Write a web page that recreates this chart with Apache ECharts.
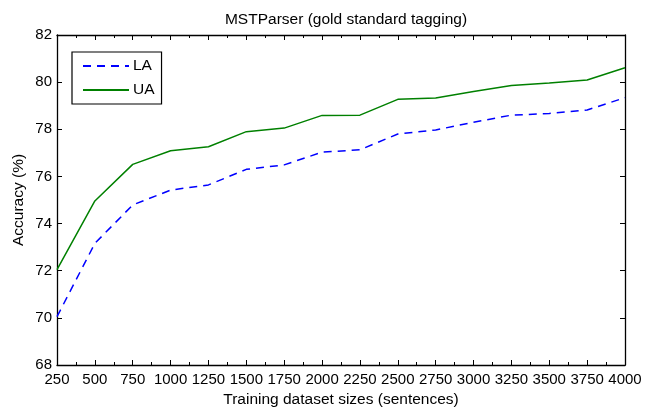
<!DOCTYPE html>
<html><head><meta charset="utf-8">
<script src="https://cdn.jsdelivr.net/npm/echarts@6/dist/echarts.min.js"></script>
<style>html,body{margin:0;padding:0;background:#fff}#c{width:653px;height:407px}</style>
</head><body><div id="c"></div>
<script>
const sizes = [250,500,750,1000,1250,1500,1750,2000,2250,2500,2750,3000,3250,3500,3750,4000];
const LA = [70.05,73.16,74.79,75.42,75.64,76.3,76.49,77.03,77.13,77.8,77.97,78.3,78.6,78.67,78.82,79.34];
const UA = [72.05,74.96,76.51,77.09,77.26,77.9,78.05,78.59,78.6,79.27,79.33,79.6,79.86,79.96,80.09,80.61];
const font = 'Liberation Sans, Arial, Helvetica, sans-serif';
const pair = (xs, ys) => xs.map((x, i) => [x, ys[i]]);
const chart = echarts.init(document.getElementById('c'));
const axisLine = {show: true, lineStyle: {color: '#000', width: 1.3}};
chart.setOption({
  animation: false,
  title: {text: 'MSTParser (gold standard tagging)', left: 341, top: 7, textAlign: 'center',
    textStyle: {fontFamily: font, fontSize: 15.5, fontWeight: 'normal', color: '#000'}},
  grid: {left: 57, right: 28, top: 35, bottom: 42, containLabel: false, outerBoundsMode: 'none'},
  legend: {orient: 'vertical', left: 72, top: 52, itemWidth: 46, itemHeight: 12, itemGap: 8,
    padding: [6, 7, 6, 10], borderColor: '#000', borderWidth: 1.2, backgroundColor: '#fff',
    itemStyle: {opacity: 0},
    textStyle: {fontFamily: font, fontSize: 15.5, color: '#000', padding: [0, 0, 0, -1]},
    data: ['LA', 'UA']},
  xAxis: [{
    type: 'value', min: 250, max: 4000, interval: 250,
    name: 'Training dataset sizes (sentences)', nameLocation: 'middle', nameGap: 20,
    nameTextStyle: {fontFamily: font, fontSize: 15.5, color: '#000'},
    axisLine: axisLine, axisTick: {inside: true, length: 5, lineStyle: {color: '#000'}},
    minorTick: {show: true, splitNumber: 2, length: 3, lineStyle: {color: '#000'}},
    axisLabel: {fontFamily: font, fontSize: 15, color: '#000', margin: 7, formatter: v => String(v)},
    splitLine: {show: false}
  }, {
    type: 'value', min: 250, max: 4000, interval: 250, position: 'top',
    axisLine: axisLine, axisTick: {inside: true, length: 5, lineStyle: {color: '#000'}},
    minorTick: {show: true, splitNumber: 2, length: 3, lineStyle: {color: '#000'}},
    axisLabel: {show: false}, splitLine: {show: false}
  }],
  yAxis: [{
    type: 'value', min: 68, max: 82, interval: 2,
    name: 'Accuracy (%)', nameLocation: 'middle', nameGap: 30, nameMoveOverlap: false,
    nameTextStyle: {fontFamily: font, fontSize: 15.5, color: '#000'},
    axisLine: axisLine, axisTick: {inside: true, length: 5, lineStyle: {color: '#000'}},
    axisLabel: {fontFamily: font, fontSize: 15, color: '#000', margin: 5},
    splitLine: {show: false}
  }, {
    type: 'value', min: 68, max: 82, interval: 2, position: 'right',
    axisLine: axisLine, axisTick: {inside: true, length: 5, lineStyle: {color: '#000'}},
    axisLabel: {show: false}, splitLine: {show: false}
  }],
  series: [
    {name: 'LA', type: 'line', data: pair(sizes, LA), symbol: 'none',
      lineStyle: {color: '#0000ff', width: 1.5, type: [8, 6]}, itemStyle: {color: '#0000ff'}},
    {name: 'UA', type: 'line', data: pair(sizes, UA), symbol: 'none',
      lineStyle: {color: '#008000', width: 1.5}, itemStyle: {color: '#008000'}}
  ]
});
</script></body></html>
